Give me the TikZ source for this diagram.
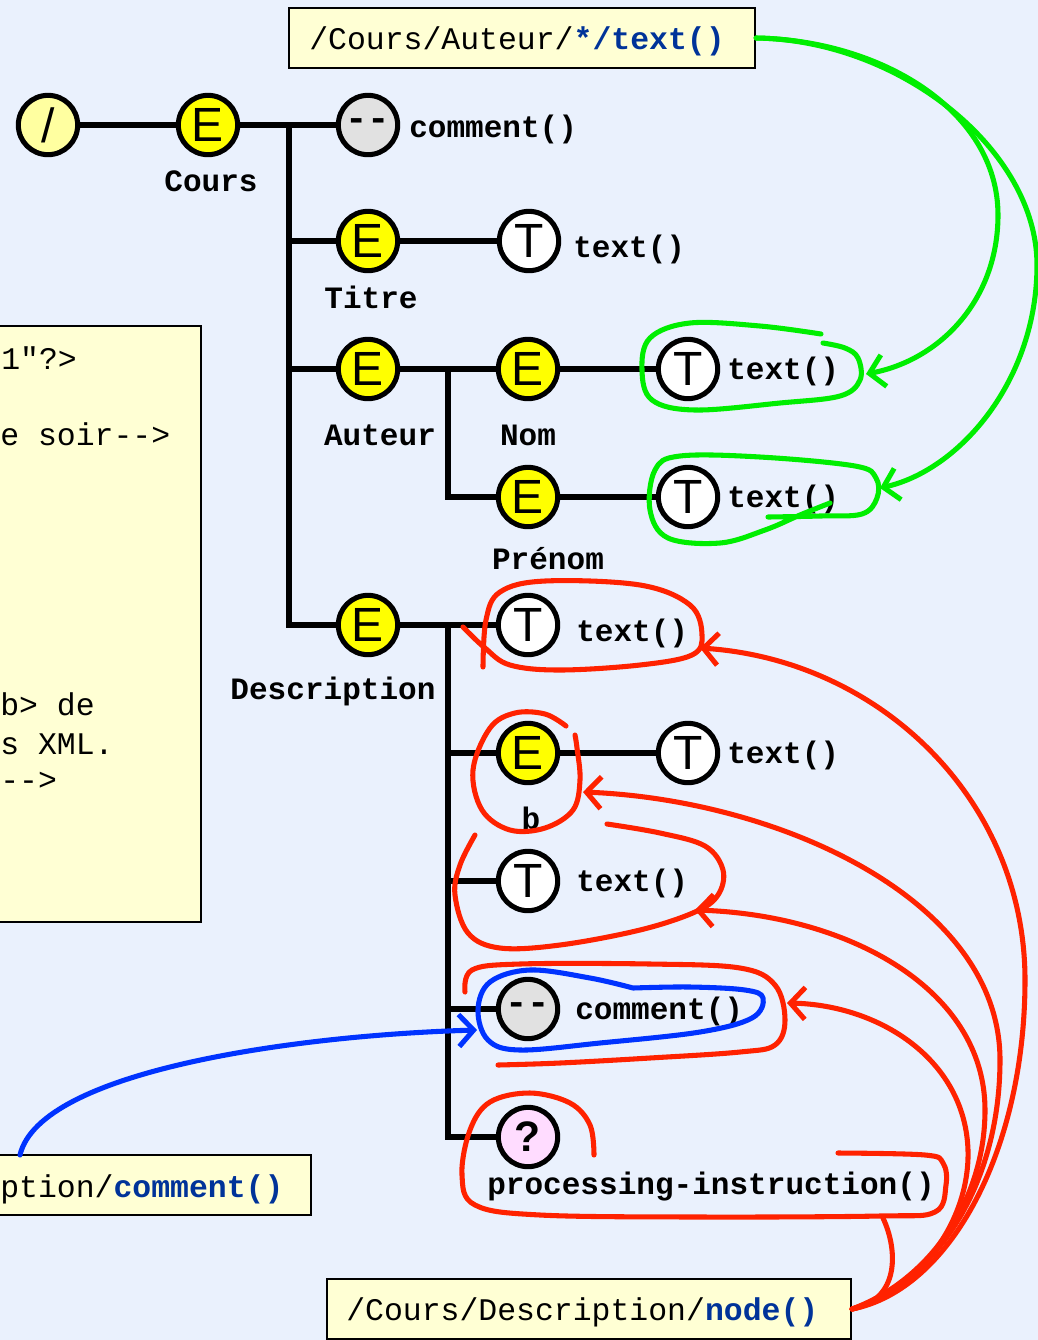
\documentclass[tikz,border=0pt]{standalone}
\usepackage{fontspec}
\setmonofont{Liberation Mono}
\newfontfamily\glyphfont{Liberation Sans}
\usetikzlibrary{arrows.meta}
\definecolor{bg}{RGB}{234,241,253}
\definecolor{elemyellow}{RGB}{255,255,0}
\definecolor{rootyellow}{RGB}{255,255,160}
\definecolor{comgray}{RGB}{225,225,225}
\definecolor{pipink}{RGB}{255,220,255}
\definecolor{boxyellow}{RGB}{255,255,212}
\definecolor{xblue}{RGB}{0,51,153}
\definecolor{hgreen}{RGB}{0,238,0}
\definecolor{hred}{RGB}{255,34,0}
\definecolor{hblue}{RGB}{0,51,255}
\begin{document}
\begin{tikzpicture}[x=0.75pt,y=-0.75pt,
  xnode/.style={circle, draw=black, line width=3.8pt, minimum size=44.5pt, inner sep=0pt,
    font=\glyphfont\fontsize{36}{36}\selectfont},
  elem/.style={xnode, fill=elemyellow},
  rootn/.style={xnode, fill=rootyellow},
  txtn/.style={xnode, fill=white},
  comn/.style={xnode, fill=comgray, font=\ttfamily\bfseries\fontsize{28}{28}\selectfont},
  pin/.style={xnode, fill=pipink, font=\glyphfont\bfseries\fontsize{32}{32}\selectfont},
  lbl/.style={font=\ttfamily\bfseries\fontsize{23.3}{23.3}\selectfont, inner sep=0pt},
  rlbl/.style={lbl, anchor=west},
  xbox/.style={draw=black, line width=1.6pt, fill=boxyellow, inner sep=0pt},
  boxtxt/.style={font=\ttfamily\fontsize{23.6}{23.6}\selectfont, inner sep=0pt, anchor=west},
  tree/.style={line width=3.8pt},
  hand/.style={line width=3.8pt, line cap=round, line join=round},
  barb/.style={-{Straight Barb[length=11pt,width=24pt]}},
]
\fill[bg] (0,0) rectangle (1038,1340);
\useasboundingbox (0,0) rectangle (1038,1340);

% boxes
\node[xbox, minimum width=349.5pt, minimum height=45pt] (qtop) at (522,38) {};
\node[boxtxt] (qtoptxt) at (309,41) {/Cours/Auteur/{\color{xblue}\bfseries */text()}};
\node[xbox, minimum width=154.5pt, minimum height=447pt] (xml) at (98,624) {};
\node[boxtxt] (l1) at (1,358) {1"?>};
\node[boxtxt] (l2) at (0,434) {e soir-->};
\node[boxtxt] (l3) at (0,704) {b> de};
\node[boxtxt] (l4) at (0,744) {s XML.};
\node[boxtxt] (l5) at (0,781) {-->};
\node[xbox, minimum width=237pt, minimum height=45pt] (qleft) at (153,1185) {};
\node[boxtxt] (qlefttxt) at (0,1189) {ption/{\color{xblue}\bfseries comment()}};
\node[xbox, minimum width=393pt, minimum height=45pt] (qbot) at (589,1309) {};
\node[boxtxt] (qbottxt) at (346,1312) {/Cours/Description/{\color{xblue}\bfseries node()}};

% tree nodes
\node[rootn] (root) at (48,125) {/};
\node[elem] (cours) at (208,125) {E};
\node[comn] (com1) at (368,125) {--};
\node[elem] (titre) at (368,241) {E};
\node[txtn] (t1) at (529,241) {T};
\node[elem] (auteur) at (368,369) {E};
\node[elem] (nom) at (528,369) {E};
\node[txtn] (t2) at (688,369) {T};
\node[elem] (prenom) at (528,497) {E};
\node[txtn] (t3) at (688,497) {T};
\node[elem] (desc) at (368,625) {E};
\node[txtn] (t4) at (528,625) {T};
\node[elem] (b) at (528,753) {E};
\node[txtn] (t5) at (688,753) {T};
\node[txtn] (t6) at (528,881) {T};
\node[comn] (com2) at (528,1009) {--};
\node[pin] (pi) at (528,1137) {?};

\coordinate (j1) at (289,125);
\coordinate (j2) at (448,369);
\coordinate (j3) at (448,625);

% connectors
\draw[tree] (root) -- (cours);
\draw[tree] (cours) -- (com1);
\draw[tree] (j1) |- (desc);
\draw[tree] (titre -| j1) -- (titre);
\draw[tree] (auteur -| j1) -- (auteur);
\draw[tree] (titre) -- (t1);
\draw[tree] (auteur) -- (nom);
\draw[tree] (j2) |- (prenom);
\draw[tree] (nom) -- (t2);
\draw[tree] (prenom) -- (t3);
\draw[tree] (desc) -- (t4);
\draw[tree] (j3) |- (pi);
\draw[tree] (b -| j3) -- (b);
\draw[tree] (t6 -| j3) -- (t6);
\draw[tree] (com2 -| j3) -- (com2);
\draw[tree] (b) -- (t5);

% labels
\node[lbl] (lcours) at (211,181) {Cours};
\node[lbl] (ltitre) at (371,297) {Titre};
\node[lbl] (lauteur) at (380,435) {Auteur};
\node[lbl] (lnom) at (528,435) {Nom};
\node[lbl] (lprenom) at (548,559) {Prénom};
\node[lbl] (ldesc) at (333,691) {Description};
\node[lbl] (lb) at (531,818) {b};
\node[lbl] (lpi) at (711,1187) {processing-instruction()};
\node[rlbl] (rcom1) at (409,129) {comment()};
\node[rlbl] (rt1) at (573,249) {text()};
\node[rlbl] (rt2) at (727,371) {text()};
\node[rlbl] (rt3) at (727,499) {text()};
\node[rlbl] (rt4) at (576,633) {text()};
\node[rlbl] (rt5) at (727,755) {text()};
\node[rlbl] (rt6) at (576,883) {text()};
\node[rlbl] (rcom2) at (575,1011) {comment()};

% green annotations
\draw[hand, hgreen] plot[smooth, tension=0.6] coordinates {(821,334) (760,326) (690,323) (650,338) (642,370) (652,400) (695,410) (780,403) (840,396) (860,380) (858,358) (845,348) (823,343)};
\draw[hand, hgreen] plot[smooth, tension=0.6] coordinates {(768,517) (820,516) (862,514) (877,498) (876,478) (855,466) (760,457) (680,456) (655,470) (650,510) (668,538) (720,543) (765,530) (800,515) (830,503)};
\coordinate (g1) at (866,374);
\coordinate (g2) at (880,488);
\draw[hand, hgreen, barb] (qtop.east) .. controls (880,40) and (998,110) .. (998,215) .. controls (998,300) and (940,360) .. (g1);
\draw[hand, hgreen, barb] (qtop.east) .. controls (900,40) and (1037,150) .. (1037,265) .. controls (1037,380) and (960,470) .. (g2);

% red annotations
\draw[hand, hred] plot[smooth, tension=0.6] coordinates {(483,667) (486,620) (500,592) (545,581) (640,585) (690,605) (702,635) (692,655) (640,665) (560,670) (510,665) (485,648) (463,627)};
\draw[hand, hred] plot[smooth, tension=0.6] coordinates {(566,726) (545,714) (515,713) (490,728) (473,770) (482,810) (510,830) (545,828) (573,810) (580,780) (577,748) (575,735)};
\draw[hand, hred] plot[smooth, tension=0.6] coordinates {(607,824) (660,833) (705,846) (723,870) (718,895) (695,912) (640,930) (560,945) (500,948) (468,933) (455,895) (460,865) (475,835)};
\draw[hand, hred] plot[smooth, tension=0.6] coordinates {(465,992) (472,970) (520,964) (650,964) (740,968) (775,985) (785,1020) (775,1045) (740,1052) (650,1058) (560,1063) (498,1065)};
\draw[hand, hred] plot[smooth, tension=0.6] coordinates {(594,1155) (590,1125) (570,1103) (530,1093) (490,1102) (470,1130) (462,1175) (475,1205) (540,1215) (700,1217) (880,1216) (935,1212) (946,1185) (943,1163) (925,1155) (838,1153)};
\coordinate (r1) at (700,648);
\coordinate (r2) at (583,792);
\coordinate (r3) at (695,910);
\coordinate (r4) at (787,1003);
\coordinate (r5) at (883,1218);
\draw[hand, hred, barb] (qbot.east) .. controls (950,1290) and (1025,1150) .. (1025,980) .. controls (1025,800) and (880,660) .. (r1);
\draw[hand, hred, barb] (qbot.east) .. controls (940,1280) and (1000,1180) .. (1000,1060) .. controls (1000,900) and (780,800) .. (r2);
\draw[hand, hred, barb] (qbot.east) .. controls (930,1280) and (985,1200) .. (985,1110) .. controls (985,990) and (850,915) .. (r3);
\draw[hand, hred, barb] (qbot.east) .. controls (920,1290) and (970,1220) .. (968,1150) .. controls (965,1060) and (880,1005) .. (r4);
\draw[hand, hred] (qbot.east) .. controls (900,1300) and (898,1250) .. (r5);

% blue annotations
\draw[hand, hblue] plot[smooth, tension=0.6] coordinates {(633,988) (590,978) (530,970) (490,982) (478,1010) (488,1040) (520,1050) (600,1043) (700,1032) (752,1018) (763,998) (745,990) (690,987) (633,988)};
\coordinate (bstart) at (20,1155);
\coordinate (bend) at (477,1030);
\draw[hand, hblue, barb] (bstart) .. controls (40,1070) and (300,1035) .. (bend);
\end{tikzpicture}
\end{document}
